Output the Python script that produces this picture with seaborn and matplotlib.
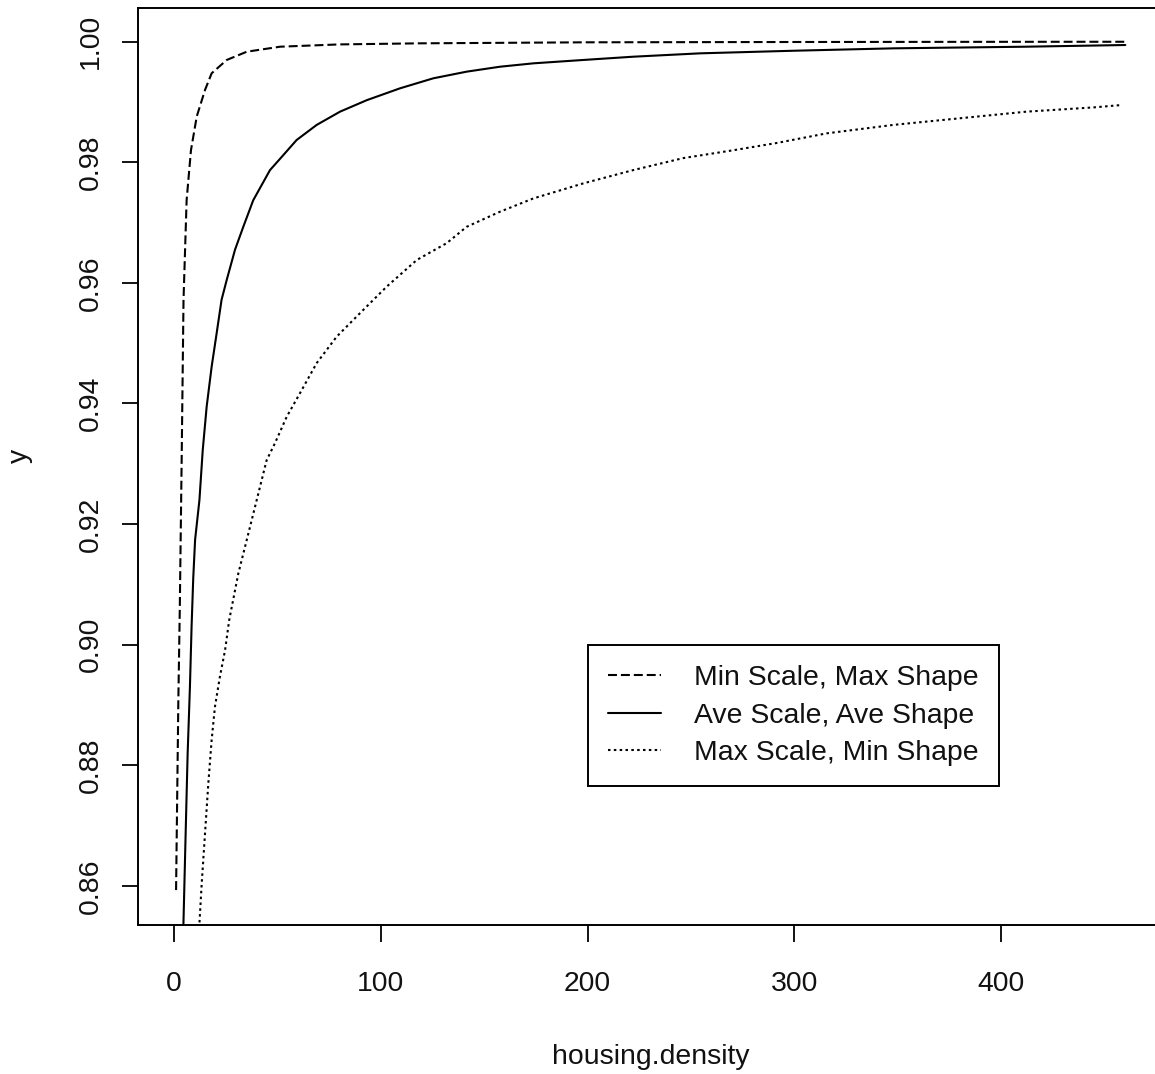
import matplotlib
matplotlib.use("Agg")
import matplotlib.pyplot as plt
import seaborn as sns
import pandas as pd

# ---- data ----
min_scale_x = [1.0, 2.1, 2.8, 3.7, 4.6, 6.1, 8.2, 11.0, 15.0, 18.2, 25.5, 35.2, 51.3, 80.0, 119.0, 200.0, 300.0, 400.0, 460.0]
min_scale_y = [0.8593, 0.8908, 0.9060, 0.9306, 0.9572, 0.9737, 0.9820, 0.9876, 0.9920, 0.99476, 0.99697, 0.99834, 0.99917, 0.99955, 0.99973, 0.99990, 0.99995, 0.99998, 0.99999]

ave_scale_x = [4.3, 5.6, 6.6, 7.7, 8.5, 9.3, 10.2, 12.3, 13.9, 15.8, 18.2, 20.6, 23.0, 25.5, 29.5, 33.5, 38.3, 46.4, 52.1, 59.3, 69.0, 80.3, 93.2, 109.3, 125.4, 141.5, 157.6, 173.7, 197.9, 222.0, 254.4, 299.5, 348.0, 412.0, 460.0]
ave_scale_y = [0.8500, 0.8683, 0.8820, 0.8930, 0.9030, 0.9110, 0.9174, 0.9240, 0.9323, 0.9395, 0.9461, 0.9516, 0.9572, 0.9605, 0.9655, 0.9693, 0.9737, 0.9787, 0.9809, 0.9837, 0.9862, 0.9884, 0.9903, 0.99227, 0.99393, 0.99503, 0.99585, 0.99641, 0.99697, 0.99751, 0.99807, 0.99850, 0.99890, 0.99917, 0.99945]

max_scale_x = [12.0, 13.4, 15.0, 16.6, 18.2, 19.8, 22.2, 24.7, 26.7, 31.1, 35.2, 40.0, 44.8, 48.8, 54.5, 60.9, 69.0, 78.7, 90.0, 102.9, 117.4, 131.9, 141.5, 157.6, 173.7, 197.9, 222.0, 246.3, 270.5, 291.4, 315.6, 347.8, 380.0, 412.3, 444.5, 458.3]
max_scale_y = [0.8520, 0.8604, 0.8687, 0.8770, 0.8842, 0.8897, 0.8947, 0.8991, 0.9041, 0.9118, 0.9174, 0.9240, 0.9306, 0.9334, 0.9378, 0.9417, 0.9467, 0.9511, 0.9550, 0.9594, 0.9638, 0.9666, 0.9693, 0.9718, 0.9740, 0.9765, 0.9787, 0.9807, 0.9820, 0.9832, 0.9848, 0.9862, 0.9873, 0.9884, 0.9891, 0.9895]

series_labels = ["Min Scale, Max Shape", "Ave Scale, Ave Shape", "Max Scale, Min Shape"]
x_ticks = [0, 100, 200, 300, 400]
y_ticks = [0.86, 0.88, 0.90, 0.92, 0.94, 0.96, 0.98, 1.00]
x_label = "housing.density"
y_label = "y"

# ---- style ----
sns.set_style("white")
plt.rcParams["font.family"] = ["Liberation Sans", "DejaVu Sans"]
FS = 20.4
LW = 1.5

W, H = 1155, 1074
fig = plt.figure(figsize=(W / 100, H / 100), dpi=100)
fig.patch.set_facecolor("white")

# axes geometry in pixels (axes extends slightly past right edge, as in reference)
ax_left, ax_right, ax_top, ax_bottom = 138.1, 1163.3, 7.75, 924.8
ax = fig.add_axes([ax_left / W, 1 - ax_bottom / H, (ax_right - ax_left) / W, (ax_bottom - ax_top) / H])
ax.set_facecolor("white")

df_min = pd.DataFrame({"x": min_scale_x, "y": min_scale_y})
df_ave = pd.DataFrame({"x": ave_scale_x, "y": ave_scale_y})
df_max = pd.DataFrame({"x": max_scale_x, "y": max_scale_y})

styles = [(0, (4.3, 1.9)), "solid", (0, (1.2, 1.6))]
for df, lab, ls in zip([df_min, df_ave, df_max], series_labels, styles):
    sns.lineplot(data=df, x="x", y="y", ax=ax, color="black", linewidth=LW,
                 linestyle=ls, label=lab, estimator=None, sort=False)

ax.set_xlim(-17.36, 478.36)
ax.set_ylim(0.85354, 1.00563)
ax.set_xticks(x_ticks)
ax.set_xticklabels([str(t) for t in x_ticks], fontsize=FS, color="#111111")
ax.set_yticks(y_ticks)
ax.set_yticklabels([f"{t:.2f}" for t in y_ticks], fontsize=FS, color="#111111",
                   rotation=90, va="center")

ax.tick_params(axis="x", direction="out", length=12.3, width=1.3, color="black", pad=21, bottom=True)
ax.tick_params(axis="y", direction="out", length=11.8, width=1.3, color="black", pad=13, left=True)

for side in ["left", "bottom", "top", "right"]:
    ax.spines[side].set_visible(True)
    ax.spines[side].set_color("black")
    ax.spines[side].set_linewidth(1.4)

ax.set_xlabel(x_label, fontsize=FS, color="#111111")
ax.set_ylabel(y_label, fontsize=FS, color="#111111")
ax.xaxis.set_label_coords(0.5, -(1044 - ax_bottom) / (ax_bottom - ax_top))
ax.yaxis.set_label_coords(-(ax_left - 33) / (ax_right - ax_left), (ax_bottom - 456) / (ax_bottom - ax_top))

leg = ax.legend(loc="upper left", bbox_to_anchor=(588 / W, 1 - 645 / H),
                bbox_transform=fig.transFigure, fontsize=FS, frameon=True,
                fancybox=False, framealpha=1, edgecolor="black",
                handlelength=1.87, handletextpad=1.15, labelspacing=0.4,
                borderpad=0.72, borderaxespad=0)
leg.get_frame().set_linewidth(1.4)
for t in leg.get_texts():
    t.set_color("#111111")

fig.savefig("out.png", dpi=100, facecolor="white")
